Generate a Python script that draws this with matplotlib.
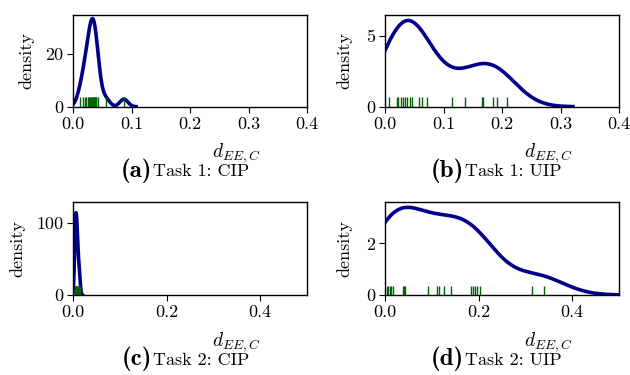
import matplotlib
matplotlib.use("Agg")
import matplotlib.pyplot as plt
import seaborn as sns

plt.rcParams['font.family'] = ['cmr10', 'DejaVu Serif']
plt.rcParams['mathtext.fontset'] = 'cm'
plt.rcParams['axes.formatter.use_mathtext'] = True
plt.rcParams['axes.unicode_minus'] = False

# Distances d_EE,C per panel (rug observations)
task1_cip = [0.012, 0.017, 0.020, 0.023, 0.025, 0.027, 0.029, 0.030, 0.031, 0.033,
             0.034, 0.035, 0.036, 0.037, 0.038, 0.039, 0.040, 0.043, 0.056, 0.087]
task1_uip = [0.007, 0.021, 0.023, 0.027, 0.030, 0.034, 0.038, 0.042, 0.046, 0.058,
             0.063, 0.072, 0.115, 0.137, 0.166, 0.168, 0.185, 0.191, 0.208]
task2_cip = [0.004, 0.005, 0.005, 0.006, 0.007, 0.007, 0.008, 0.009, 0.010, 0.012, 0.014]
task2_uip = [0.004, 0.007, 0.010, 0.013, 0.017, 0.038, 0.040, 0.043, 0.092, 0.111,
             0.115, 0.126, 0.141, 0.184, 0.188, 0.192, 0.197, 0.203, 0.314, 0.339]

panel_letters = ['(a)', '(b)', '(c)', '(d)']
panel_titles = ['Task 1: CIP', 'Task 1: UIP', 'Task 2: CIP', 'Task 2: UIP']
xlims = [0.4, 0.4, 0.5, 0.5]
ylims = [35, 6.5, 128.6, 3.62]
xticks = [[0.0, 0.1, 0.2, 0.3, 0.4], [0.0, 0.1, 0.2, 0.3, 0.4],
          [0.0, 0.2, 0.4], [0.0, 0.2, 0.4]]
yticks = [[0, 20], [0, 5], [0, 100], [0, 2]]
datasets = [task1_cip, task1_uip, task2_cip, task2_uip]
bw_adj = [0.8, 1.0, 1.05, 1.0]
ylabel_x = [-0.167, -0.141, -0.205, -0.141]

fig = plt.figure(figsize=(6.3, 3.75), dpi=100)
positions = [
    [73/630, 1-106.7/375, 234/630, 92/375],
    [385/630, 1-106.7/375, 234/630, 92/375],
    [73/630, 1-295/375, 234/630, 92.7/375],
    [385/630, 1-295/375, 234/630, 93.3/375],
]

for i, data in enumerate(datasets):
    ax = fig.add_axes(positions[i])
    sns.kdeplot(x=data, ax=ax, color='#00008B', lw=2.6, bw_adjust=bw_adj[i])
    sns.rugplot(x=data, ax=ax, color='#006400', height=0.1, lw=1.0)
    ax.set_xlim(0, xlims[i])
    ax.set_ylim(0, ylims[i])
    ax.set_xticks(xticks[i])
    ax.set_xticklabels([f'{t:.1f}' for t in xticks[i]])
    ax.set_yticks(yticks[i])
    ax.set_yticklabels([str(t) for t in yticks[i]])
    ax.tick_params(labelsize=13, length=4, width=0.8, direction='out', pad=3)
    ax.set_ylabel('density', fontsize=13)
    ax.yaxis.set_label_coords(ylabel_x[i], 0.5)
    ax.set_xlabel(r'$d_{EE,C}$', fontsize=14)
    ax.xaxis.set_label_coords(0.70, -0.38)
    for s in ax.spines.values():
        s.set_linewidth(1.0)
    pos = positions[i]
    cx = pos[0] + pos[2] * 0.5
    cy = pos[1] - 64/375
    fig.text(cx - 38/630, cy, panel_letters[i], fontsize=18, family='cmb10',
             ha='right', va='center')
    fig.text(cx - 37/630, cy - 1/375, panel_titles[i], fontsize=13, ha='left', va='center')

fig.savefig('out.png', dpi=100)
